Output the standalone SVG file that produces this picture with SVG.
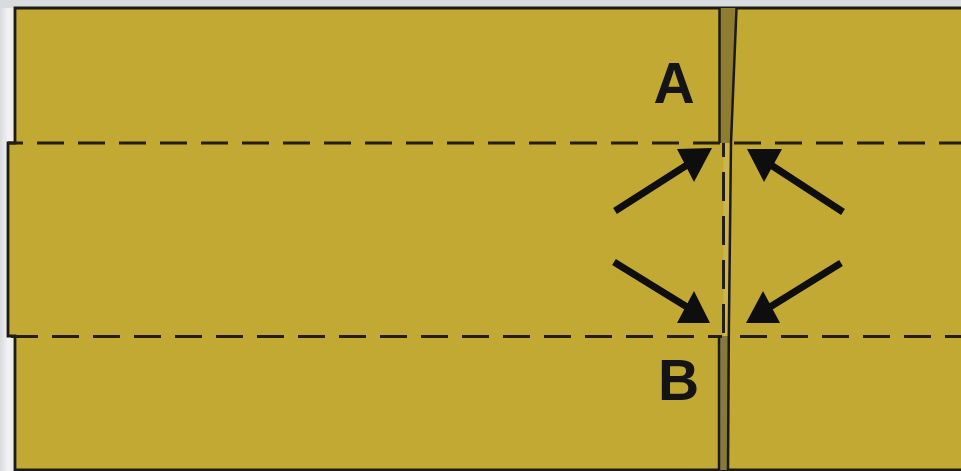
<svg xmlns="http://www.w3.org/2000/svg" width="961" height="471" viewBox="0 0 961 471">
  <defs>
    <linearGradient id="margin" x1="0" y1="0" x2="1" y2="0">
      <stop offset="0" stop-color="#d9dade"/>
      <stop offset="0.5" stop-color="#f3f3f5"/>
      <stop offset="1" stop-color="#e6e6ea"/>
    </linearGradient>
    <style>
      .paper { fill: #c2a934; stroke: #1c1a14; stroke-width: 2.8; stroke-linejoin: miter; }
      .fold { fill: none; stroke: #241f12; stroke-width: 3; }
      .seam { fill: none; stroke: #1c1a14; stroke-width: 2.5; }
      .shaft { fill: none; stroke: #0e0e0e; stroke-width: 7; stroke-linecap: butt; }
      .head { fill: #0e0e0e; }
      .label { font-family: "Liberation Sans", Arial, sans-serif; font-weight: bold; font-size: 57px; fill: #141414; text-anchor: middle; }
    </style>
  </defs>

  <!-- backdrop -->
  <rect x="0" y="0" width="961" height="471" fill="#eceef0"/>
  <rect x="0" y="0" width="16" height="471" fill="url(#margin)"/>
  <rect x="0" y="0" width="961" height="8" fill="#d9dcdf"/>

  <!-- folded sheet outline -->
  <g id="sheet">
    <path class="paper" d="M15,8 H966 V470 H15 V336 H8 V143 H15 Z"/>
  </g>

  <!-- centre seam where the two halves meet -->
  <g id="seam">
    <polygon points="719.5,8 736.5,8 731,143 719.5,143" fill="#8e7c30"/>
    <polygon points="723.5,143 731,143 729,336 723.5,336" fill="#ccb54a"/>
    <polygon points="719,336 728.5,336 728,470 719,470" fill="#86793f"/>
    <line class="seam" x1="719.5" y1="8" x2="719.5" y2="143"/>
    <polyline class="seam" points="736.5,8 731,143 728.8,336 728,470"/>
    <line class="seam" x1="719" y1="336" x2="719" y2="470"/>
    <line class="fold" x1="723.5" y1="143" x2="723.5" y2="336" stroke-dasharray="29 15" stroke-dashoffset="15" stroke-width="2.6"/>
  </g>

  <!-- horizontal fold lines -->
  <g id="folds">
    <line class="fold" x1="8" y1="143" x2="961" y2="143" stroke-dasharray="27 14" stroke-dashoffset="12"/>
    <line class="fold" x1="11" y1="336.5" x2="722" y2="336.5" stroke-dasharray="27 14"/>
    <line class="fold" x1="729" y1="336.5" x2="961" y2="336.5" stroke-dasharray="27 14" stroke-dashoffset="30"/>
  </g>

  <!-- arrows pushing toward the seam -->
  <g id="connectors">
    <g id="arrow-upper-left">
      <line class="shaft" x1="615" y1="211" x2="687" y2="165"/>
      <polygon class="head" points="712,148 677,149 694,182"/>
    </g>
    <g id="arrow-upper-right">
      <line class="shaft" x1="843" y1="212" x2="771" y2="165"/>
      <polygon class="head" points="747,149 782,149 764,182"/>
    </g>
    <g id="arrow-lower-left">
      <line class="shaft" x1="614" y1="262" x2="687" y2="307"/>
      <polygon class="head" points="710,323 694,291 677,323"/>
    </g>
    <g id="arrow-lower-right">
      <line class="shaft" x1="841" y1="263" x2="770" y2="307"/>
      <polygon class="head" points="746,323 763,291 780,323"/>
    </g>
  </g>

  <!-- point labels -->
  <g id="label-A">
    <text class="label" x="674" y="103">A</text>
  </g>
  <g id="label-B">
    <text class="label" x="678.5" y="400">B</text>
  </g>
</svg>
